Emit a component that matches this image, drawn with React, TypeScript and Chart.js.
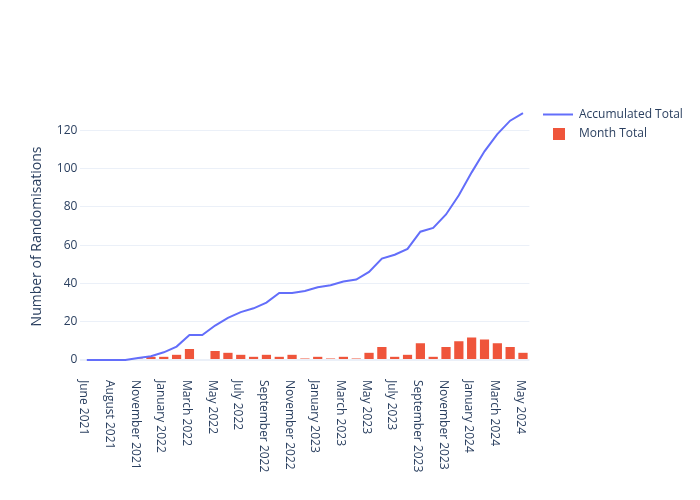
import React, { useEffect, useRef } from "react";
import { Chart, registerables } from "chart.js";

Chart.register(...registerables);

const months = [
  "June 2021", "July 2021", "August 2021", "September 2021", "November 2021", "December 2021",
  "January 2022", "February 2022", "March 2022", "April 2022", "May 2022", "June 2022",
  "July 2022", "August 2022", "September 2022", "October 2022", "November 2022", "December 2022",
  "January 2023", "February 2023", "March 2023", "April 2023", "May 2023", "June 2023",
  "July 2023", "August 2023", "September 2023", "October 2023", "November 2023", "December 2023",
  "January 2024", "February 2024", "March 2024", "April 2024", "May 2024",
];

const tickMonths = [
  "June 2021", "August 2021", "November 2021", "January 2022", "March 2022", "May 2022",
  "July 2022", "September 2022", "November 2022", "January 2023", "March 2023", "May 2023",
  "July 2023", "September 2023", "November 2023", "January 2024", "March 2024", "May 2024",
];

const accumulatedTotal = [
  0, 0, 0, 0, 1, 2, 4, 7, 13, 13, 18, 22, 25, 27, 30, 35, 35, 36, 38, 39, 41, 42, 46, 53, 55,
  58, 67, 69, 76, 86, 98, 109, 118, 125, 129,
];

const monthTotal = [
  0, 0, 0, 0, 1, 2, 2, 3, 6, 0, 5, 4, 3, 2, 3, 2, 3, 1, 2, 1, 2, 1, 4, 7, 2, 3, 9, 2, 7, 10,
  12, 11, 9, 7, 4,
];

const yTickValues = [0, 20, 40, 60, 80, 100, 120];

const yTitle = "Number of Randomisations";
const seriesNames = ["Accumulated Total", "Month Total"];

const FONT = '"Open Sans", verdana, arial, sans-serif';
const TEXT = "#2a3f5f";
const LINE = "#636efa";
const BAR = "#EF553B";
const GRID = "#EBF0F8";

const overlay = {
  id: "overlay",
  afterDraw(chart: any) {
    const ctx = chart.ctx;
    const xs = chart.scales.x;
    const area = chart.chartArea;
    ctx.save();
    ctx.fillStyle = TEXT;
    ctx.font = `12px ${FONT}`;
    ctx.textAlign = "left";
    ctx.textBaseline = "middle";
    tickMonths.forEach((m) => {
      const px = xs.getPixelForValue(months.indexOf(m)) - 3;
      ctx.save();
      ctx.translate(px, area.bottom + 7);
      ctx.rotate(Math.PI / 2);
      ctx.fillText(m, 0, 0);
      ctx.restore();
    });

    ctx.font = `14px ${FONT}`;
    ctx.textAlign = "center";
    ctx.save();
    ctx.translate(37.5, (area.top + area.bottom) / 2);
    ctx.rotate(-Math.PI / 2);
    ctx.fillText(yTitle, 0, 0);
    ctx.restore();

    // legend
    ctx.font = `12px ${FONT}`;
    ctx.textAlign = "left";
    ctx.strokeStyle = LINE;
    ctx.lineWidth = 2;
    ctx.beginPath();
    ctx.moveTo(543, 114.5);
    ctx.lineTo(573, 114.5);
    ctx.stroke();
    ctx.fillText(seriesNames[0], 579, 114.5);
    ctx.fillStyle = BAR;
    ctx.fillRect(553, 128, 12, 12);
    ctx.fillStyle = TEXT;
    ctx.fillText(seriesNames[1], 579, 134);
    ctx.restore();
  },
};

export default function App() {
  const ref = useRef<HTMLCanvasElement>(null);
  useEffect(() => {
    document.body.style.margin = "0";
    const chart = new Chart(ref.current as HTMLCanvasElement, {
      type: "bar",
      data: {
        labels: months,
        datasets: [
          {
            type: "line",
            label: seriesNames[0],
            data: accumulatedTotal,
            borderColor: LINE,
            backgroundColor: LINE,
            borderWidth: 2,
            pointRadius: 0,
            tension: 0,
            order: 0,
          } as any,
          {
            type: "bar",
            label: seriesNames[1],
            data: monthTotal,
            backgroundColor: BAR,
            borderColor: "rgba(255,255,255,0.6)",
            borderWidth: 0.5,
            categoryPercentage: 1,
            barPercentage: 0.8,
            order: 1,
          },
        ],
      },
      options: {
        responsive: false,
        animation: false,
        layout: { padding: { left: 0, top: 100, right: 170.6, bottom: 0 } },
        plugins: { legend: { display: false }, tooltip: { enabled: false } },
        scales: {
          x: {
            type: "category",
            offset: true,
            grid: { display: false },
            border: { display: false },
            ticks: { display: false },
            afterFit: (s: any) => {
              s.height = 127;
            },
          },
          y: {
            min: -6.8,
            max: 135.8,
            afterBuildTicks: (s: any) => {
              s.ticks = yTickValues.map((v) => ({ value: v }));
            },
            afterFit: (s: any) => {
              s.width = 80.4;
            },
            border: { display: false },
            grid: {
              color: GRID,
              drawTicks: false,
              lineWidth: (c: any) => (c.tick && c.tick.value === 0 ? 2 : 1),
            },
            ticks: {
              color: TEXT,
              padding: 3,
              font: { family: FONT, size: 12 },
            },
          },
        },
      },
      plugins: [overlay],
    });
    return () => chart.destroy();
  }, []);
  return (
    <div style={{ width: 700, height: 500 }}>
      <canvas ref={ref} width={700} height={500} />
    </div>
  );
}
